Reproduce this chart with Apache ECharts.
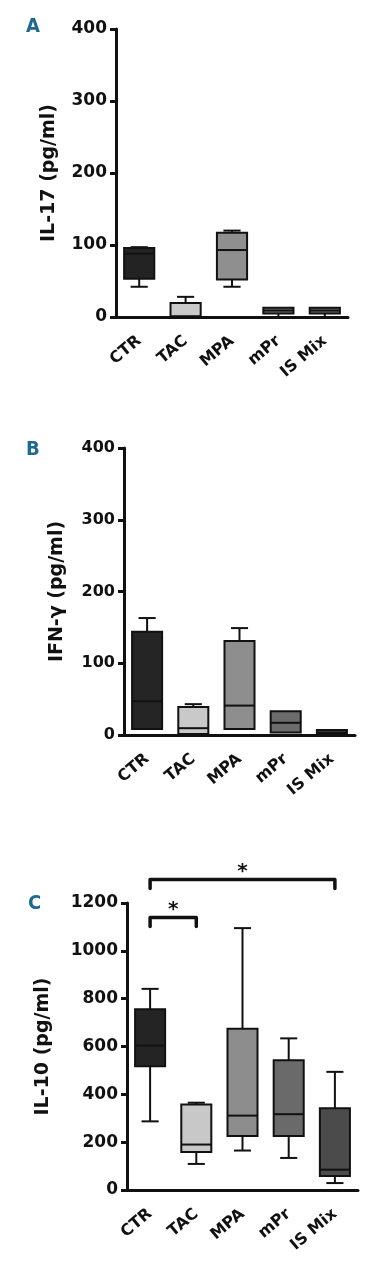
<!DOCTYPE html>
<html>
<head>
<meta charset="utf-8">
<script src="https://cdn.jsdelivr.net/npm/echarts@6/dist/echarts.min.js"></script>
<style>
html,body{margin:0;padding:0;background:#fff;}
#chart{width:373px;height:1280px;}
</style>
</head>
<body>
<div id="chart"></div>
<script>
// ---- data ----
const categories = ['CTR', 'TAC', 'MPA', 'mPr', 'IS Mix'];
// each row: [min, Q1, median, Q3, max]
const il17 = [
  [42, 53, 88, 96, 97],
  [0, 0.5, 1, 19.5, 28],
  [42, 52, 93, 117, 120],
  [0, 5, 9, 13, 13],
  [0, 5, 9, 13, 13]
];
const ifng = [
  [8, 8.5, 47, 144, 163],
  [1, 1.5, 9.5, 39, 43],
  [8, 8.5, 41, 131, 149],
  [3, 3.6, 17, 33, 33],
  [1, 1.5, 3, 7, 7]
];
const il10 = [
  [287, 517, 604, 756, 841],
  [109, 159, 190, 358, 365],
  [165, 226, 311, 674, 1095],
  [134, 226, 317, 543, 634],
  [29, 59, 85, 342, 494]
];
// significance brackets for IL-10: [fromIndex, toIndex, level]
const sigBrackets = [[0, 4, 1298], [0, 1, 1139]];
const sigLabels = ['*', '*'];
const yTicksA = {min: 0, max: 400, interval: 100};
const yTicksC = {min: 0, max: 1200, interval: 200};

// ---- styles ----
const colorsA = ['#232323', '#cacaca', '#8f8f8f', '#747474', '#6e6e6e'];
const colorsB = ['#252525', '#c9c9c9', '#8e8e8e', '#6c6c6c', '#3a3a3a'];
const colorsC = ['#242424', '#c8c8c8', '#8d8d8d', '#6a6a6a', '#4b4b4b'];
const FONT = 'DejaVu Sans';
const INK = '#111';
const TXT = '#111';

const chart = echarts.init(document.getElementById('chart'), null, {renderer: 'canvas'});

function boxSeries(rows, colors, idx) {
  return {
    type: 'custom',
    xAxisIndex: idx, yAxisIndex: idx,
    clip: false,
    data: rows.map((r, i) => [i].concat(r)),
    renderItem: function (params, api) {
      const x = api.value(0);
      const band = api.size([1, 0])[0];
      const bw = band * 0.65, cw = band * 0.37;
      const pMin = api.coord([x, api.value(1)]);
      const pQ1 = api.coord([x, api.value(2)]);
      const pMed = api.coord([x, api.value(3)]);
      const pQ3 = api.coord([x, api.value(4)]);
      const pMax = api.coord([x, api.value(5)]);
      const cx = pQ1[0];
      const ls = {stroke: INK, lineWidth: 2, fill: null};
      const ch = [];
      if (pMax[1] < pQ3[1] - 0.5) {
        ch.push({type: 'line', shape: {x1: cx, y1: pQ3[1], x2: cx, y2: pMax[1]}, style: ls});
        ch.push({type: 'line', shape: {x1: cx - cw / 2, y1: pMax[1], x2: cx + cw / 2, y2: pMax[1]}, style: ls});
      }
      if (pMin[1] > pQ1[1] + 0.5) {
        ch.push({type: 'line', shape: {x1: cx, y1: pQ1[1], x2: cx, y2: pMin[1]}, style: ls});
        ch.push({type: 'line', shape: {x1: cx - cw / 2, y1: pMin[1], x2: cx + cw / 2, y2: pMin[1]}, style: ls});
      }
      ch.push({type: 'rect', shape: {x: cx - bw / 2, y: pQ3[1], width: bw, height: pQ1[1] - pQ3[1]},
        style: {fill: colors[params.dataIndex], stroke: INK, lineWidth: 2}});
      ch.push({type: 'line', shape: {x1: cx - bw / 2, y1: pMed[1], x2: cx + bw / 2, y2: pMed[1]}, style: ls});
      return {type: 'group', children: ch};
    }
  };
}

function xAxisDef(idx) {
  return {
    type: 'category', gridIndex: idx, data: categories,
    boundaryGap: true,
    axisLine: {lineStyle: {color: INK, width: 3}},
    axisTick: {alignWithLabel: true, length: 8, lineStyle: {color: INK, width: 3}},
    axisLabel: {rotate: 40, margin: 22, color: TXT, fontFamily: FONT, fontWeight: 'bold', fontSize: 16, interval: 0},
    splitLine: {show: false}
  };
}
function yAxisDef(idx, ticks, name, gap, fs) {
  return {
    type: 'value', gridIndex: idx, min: ticks.min, max: ticks.max, interval: ticks.interval,
    name: name, nameLocation: 'middle', nameGap: gap,
    nameTextStyle: {color: TXT, fontFamily: FONT, fontWeight: 'bold', fontSize: 19},
    axisLine: {show: true, lineStyle: {color: INK, width: 3}},
    axisTick: {show: true, length: 6, lineStyle: {color: INK, width: 3}},
    axisLabel: {margin: 9, color: TXT, fontFamily: FONT, fontWeight: 'bold', fontSize: fs,
      formatter: function (v) { return String(v); }},
    splitLine: {show: false}
  };
}

const letterStyle = {color: '#1d6a8e', fontFamily: 'Liberation Sans Narrow, DejaVu Sans Condensed', fontWeight: 'bold', fontSize: 20};
const option = {
  animation: false,
  backgroundColor: '#fff',
  textStyle: {fontFamily: FONT},
  title: [
    {text: 'A', left: 21, top: 12, textStyle: letterStyle},
    {text: 'B', left: 21, top: 435, textStyle: letterStyle},
    {text: 'C', left: 23, top: 889, textStyle: letterStyle}
  ],
  grid: [
    {left: 116, top: 29, width: 232, height: 288},
    {left: 124, top: 448, width: 231, height: 287},
    {left: 127, top: 903, width: 231, height: 287}
  ],
  xAxis: [xAxisDef(0), xAxisDef(1), xAxisDef(2)],
  yAxis: [
    yAxisDef(0, yTicksA, 'IL-17 (pg/ml)', 57, 17),
    yAxisDef(1, yTicksA, 'IFN-γ (pg/ml)', 57, 16),
    yAxisDef(2, yTicksC, 'IL-10 (pg/ml)', 74, 17)
  ],
  series: [
    boxSeries(il17, colorsA, 0),
    boxSeries(ifng, colorsB, 1),
    boxSeries(il10, colorsC, 2),
    {
      type: 'custom', xAxisIndex: 2, yAxisIndex: 2, clip: false,
      data: sigBrackets,
      renderItem: function (params, api) {
        const p0 = api.coord([api.value(0), api.value(2)]);
        const p1 = api.coord([api.value(1), api.value(2)]);
        const drop = 9;
        return {type: 'group', children: [
          {type: 'polyline', shape: {points: [[p0[0], p0[1] + drop], [p0[0], p0[1]], [p1[0], p1[1]], [p1[0], p1[1] + drop]]},
            style: {stroke: INK, lineWidth: 3.5, fill: null, lineCap: 'round', lineJoin: 'round'}},
          {type: 'text', x: (p0[0] + p1[0]) / 2, y: p0[1] + 2,
            style: {text: sigLabels[params.dataIndex], font: 'bold 20px "DejaVu Sans"', fill: INK, align: 'center', verticalAlign: 'bottom'}}
        ]};
      }
    }
  ]
};
chart.setOption(option);
</script>
</body>
</html>
